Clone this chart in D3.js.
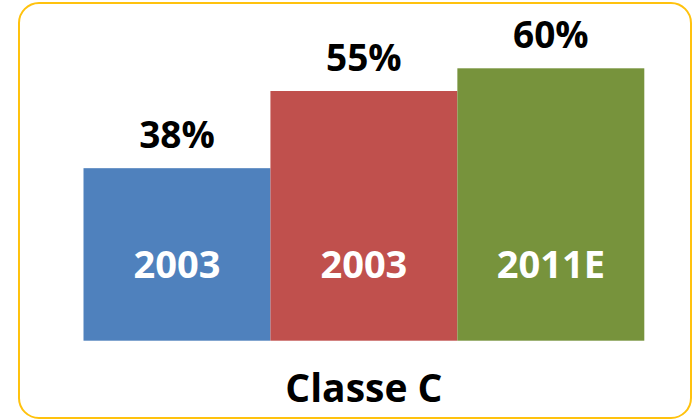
<!DOCTYPE html>
<html>
<head>
<meta charset="utf-8">
<script src="https://cdnjs.cloudflare.com/ajax/libs/d3/7.8.5/d3.min.js"></script>
<style>
  body { margin: 0; background: #fff; }
  svg text { font-family: "Open Sans", Lato, sans-serif; font-weight: 700; }
</style>
</head>
<body>
<svg class="chart" width="693" height="420"></svg>
<script>
// data
var categories = ["a", "b", "c"];
var barLabels = ["2003", "2003", "2011E"];
var values = [38, 55, 60];
var colors = ["#4F81BD", "#C0504D", "#77933C"];
var title = "Classe C";

var svg = d3.select("svg.chart");

// rounded frame
svg.append("rect")
    .attr("x", 19)
    .attr("y", 3)
    .attr("width", 672)
    .attr("height", 415)
    .attr("rx", 20)
    .attr("ry", 20)
    .style("fill", "none")
    .style("stroke", "#FFC20E")
    .style("stroke-width", 2);

var x = d3.scaleBand().domain(categories).range([83.5, 644.3]).padding(0),
    y = d3.scaleLinear().domain([0, 60]).range([340.7, 68.3]);

var g = svg.append("g");

g.selectAll(".bar")
    .data(values)
  .enter().append("rect")
    .attr("class", "bar")
    .attr("x", function(d, i) { return x(categories[i]); })
    .attr("y", function(d) { return y(d); })
    .attr("width", x.bandwidth())
    .attr("height", function(d) { return y(0) - y(d); })
    .style("fill", function(d, i) { return colors[i]; });

// value labels above bars
g.selectAll(".val")
    .data(values)
  .enter().append("text")
    .attr("class", "val")
    .attr("x", function(d, i) { return x(categories[i]) + x.bandwidth() / 2; })
    .attr("y", function(d) { return y(d) - 20; })
    .attr("text-anchor", "middle")
    .style("font-size", "37px")
    .style("fill", "#000")
    .text(function(d) { return d + "%"; });

// year labels inside bars
g.selectAll(".yr")
    .data(barLabels)
  .enter().append("text")
    .attr("class", "yr")
    .attr("x", function(d, i) { return x(categories[i]) + x.bandwidth() / 2; })
    .attr("y", 278)
    .attr("text-anchor", "middle")
    .style("font-size", "38px")
    .style("fill", "#fff")
    .text(function(d) { return d; });

svg.append("text")
    .attr("x", (x.range()[0] + x.range()[1]) / 2)
    .attr("y", 402)
    .attr("text-anchor", "middle")
    .style("font-size", "39px")
    .style("fill", "#000")
    .text(title);
</script>
</body>
</html>
